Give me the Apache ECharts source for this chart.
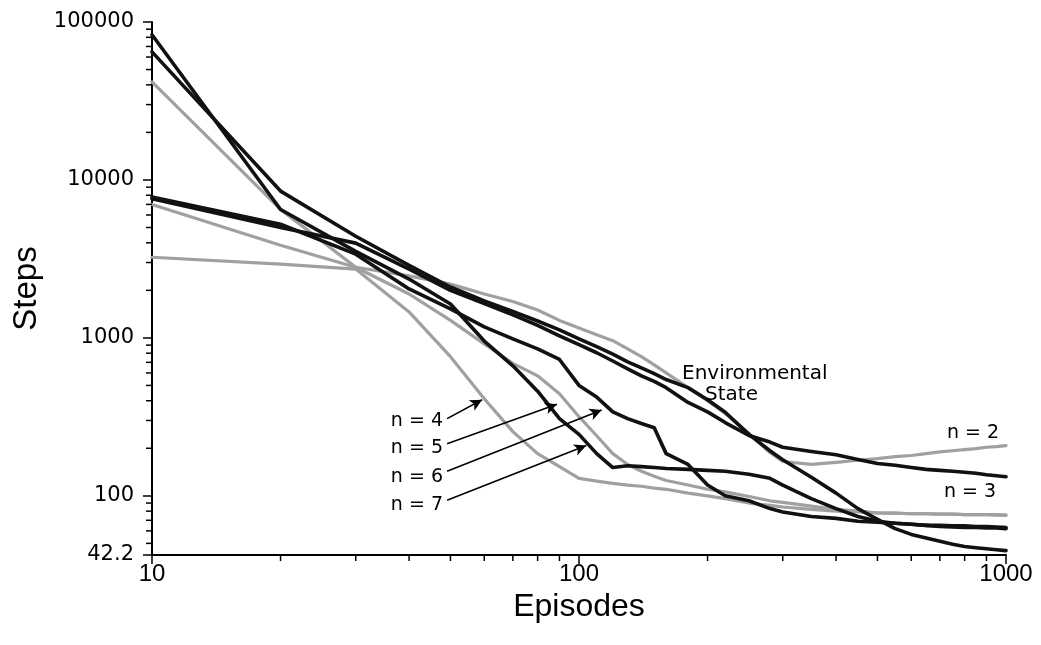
<!DOCTYPE html>
<html>
<head>
<meta charset="utf-8">
<title>Steps per episode</title>
<script src="https://cdn.jsdelivr.net/npm/echarts@6.0.0/dist/echarts.min.js"></script>
<style>
  html, body { margin: 0; padding: 0; background: #ffffff; }
  #chart { width: 1041px; height: 645px; }
</style>
</head>
<body>
<div id="chart"></div>
<script>
// Episode numbers at which every learning curve is sampled
const episodes = [10, 20, 30, 40, 50, 60, 70, 80, 90, 100, 110, 120, 130, 140, 150, 160, 180, 200, 220, 250,
  280, 300, 350, 400, 450, 500, 550, 600, 650, 700, 750, 800, 850, 900, 950, 1000];

// Steps per episode: full environmental state
const envState = [64700, 8500, 4400, 2880, 2100, 1715, 1470, 1280, 1125, 986, 880, 790, 705, 646, 593, 545, 484, 406, 338, 245,
  193, 169, 131, 104, 83, 71, 62, 57, 54, 51.5, 49.4, 47.8, 46.9, 46.2, 45.6, 45];

// Steps per episode: history windows of n observations
const window2 = [7000, 3860, 2800, 2470, 2190, 1896, 1700, 1500, 1290, 1155, 1045, 960, 852, 760, 675, 600, 484, 400, 332, 248,
  188, 165, 158, 163, 168, 172, 177, 180, 185, 190, 193, 196, 199, 203, 205, 208];
const window3 = [7600, 5000, 3980, 2725, 2000, 1650, 1400, 1200, 1030, 905, 805, 714, 637, 575, 530, 484, 390, 340, 291, 241,
  219, 203, 191, 182, 170, 160, 156, 151, 147, 145, 143, 141, 139, 136, 134, 132];
const window4 = [3240, 2930, 2725, 1460, 760, 412, 255, 185, 153, 129, 124, 120, 117, 115, 112, 110, 104, 100, 96, 90,
  87, 85, 82, 80, 79, 78, 77.6, 77, 77, 76.5, 76.5, 76, 76, 76, 76, 75.5];
const window5 = [41800, 6510, 2800, 1896, 1290, 917, 690, 575, 443, 317, 240, 185, 158, 143, 133, 125, 117, 110, 106, 99,
  93, 91, 86, 82, 80, 78, 77.6, 77, 77, 76.5, 76.5, 76, 76, 76, 75.5, 75.5];
const window6 = [7800, 5240, 3390, 2040, 1525, 1175, 986, 852, 730, 500, 422, 340, 308, 287, 270, 185, 158, 117, 100, 93,
  83, 79, 74, 72, 69, 68, 67, 66, 65, 65, 64.5, 64.5, 64, 64, 63.5, 63];
const window7 = [83000, 6500, 3530, 2357, 1640, 955, 665, 460, 308, 245, 185, 151, 155, 153, 151, 149, 147, 145, 143, 137,
  129, 117, 96, 83, 74, 69, 67, 66, 65, 64, 63.5, 63, 63, 62.5, 62.5, 62];

// Axis ranges and minor (log) tick values
const xRange = [10, 1000];
const yRange = [42.2, 100000];
const xMinorTicks = [20, 30, 40, 50, 60, 70, 80, 90, 200, 300, 400, 500, 600, 700, 800, 900];
const yMinorTicks = [50, 60, 70, 80, 90, 200, 300, 400, 500, 600, 700, 800, 900,
  2000, 3000, 4000, 5000, 6000, 7000, 8000, 9000, 20000, 30000, 40000, 50000, 60000, 70000, 80000, 90000];

// Pointer arrows from the window labels to their curves, in data units [episodes, steps]
const arrowTails = [[49.1, 308], [49.1, 214], [49.1, 143], [49.1, 93.7]];
const arrowHeads = [[59.3, 406], [88.8, 380], [113, 350], [104, 208]];

const BLACK = '#111111';
const GRAY = '#a0a0a0';

function curve(name, values, color, width, z) {
  return {
    type: 'line',
    name: name,
    data: episodes.map((e, i) => [e, values[i]]),
    showSymbol: false,
    symbol: 'none',
    smooth: false,
    lineStyle: { color: color, width: width, join: 'round', cap: 'round' },
    z: z,
    silent: true
  };
}

function tickSeries(values, axis) {
  return {
    type: 'custom',
    silent: true,
    clip: false,
    z: 6,
    data: values.map(v => axis === 'x' ? [v, yRange[0]] : [xRange[0], v]),
    renderItem: function (params, api) {
      const p = api.coord([api.value(0), api.value(1)]);
      const shape = axis === 'x'
        ? { x1: p[0], y1: p[1], x2: p[0], y2: p[1] + 6 }
        : { x1: p[0] - 6, y1: p[1], x2: p[0], y2: p[1] };
      return { type: 'line', shape: shape, style: { stroke: '#000', lineWidth: 1.5 } };
    }
  };
}

const chart = echarts.init(document.getElementById('chart'), null, { renderer: 'canvas' });

function note(text, x, y, align, size) {
  return {
    type: 'text', x: x, y: y, silent: true, z: 20,
    style: {
      text: text, fill: '#000', align: align, verticalAlign: 'middle',
      font: size + 'px "DejaVu Sans", "Liberation Sans", sans-serif'
    }
  };
}

chart.setOption({
  animation: false,
  backgroundColor: '#ffffff',
  grid: { left: 152, right: 35, top: 22, bottom: 90, containLabel: false },
  xAxis: {
    type: 'log',
    logBase: 10,
    min: xRange[0],
    max: xRange[1],
    name: 'Episodes',
    nameLocation: 'middle',
    nameGap: 33,
    nameTextStyle: { fontFamily: '"Liberation Sans", Arial, sans-serif', fontSize: 32, color: '#000' },
    axisLine: { lineStyle: { color: '#000', width: 2 } },
    axisTick: { show: true, length: 9, lineStyle: { color: '#000', width: 1.5 } },
    minorTick: { show: false },
    splitLine: { show: false },
    axisLabel: {
      color: '#000', fontSize: 24, margin: 7,
      fontFamily: '"Liberation Sans", Arial, sans-serif',
      formatter: v => String(Math.round(v))
    }
  },
  yAxis: {
    type: 'log',
    logBase: 10,
    min: yRange[0],
    max: yRange[1],
    name: 'Steps',
    nameLocation: 'middle',
    nameGap: 108,
    nameTextStyle: { fontFamily: '"Liberation Sans", Arial, sans-serif', fontSize: 33, color: '#000' },
    axisLine: { show: true, lineStyle: { color: '#000', width: 2 } },
    axisTick: { show: true, length: 9, lineStyle: { color: '#000', width: 1.5 } },
    minorTick: { show: false },
    splitLine: { show: false },
    axisLabel: {
      color: '#000', fontSize: 21, margin: 18,
      fontFamily: '"DejaVu Sans", "Liberation Sans", sans-serif',
      formatter: v => (v < 100 ? '42.2' : String(Math.round(v)))
    }
  },
  graphic: [
    note('n = 4', 443, 421, 'right', 19),
    note('n = 5', 443, 448, 'right', 19),
    note('n = 6', 443, 477, 'right', 19),
    note('n = 7', 443, 505, 'right', 19),
    note('Environmental', 682, 374, 'left', 20),
    note('State', 705, 395, 'left', 20),
    note('n = 2', 947, 433, 'left', 19),
    note('n = 3', 944, 492, 'left', 19)
  ],
  series: [
    curve('n = 2', window2, GRAY, 3.2, 2),
    curve('n = 4', window4, GRAY, 3.2, 2),
    curve('n = 5', window5, GRAY, 3.2, 2),
    curve('n = 3', window3, BLACK, 3.6, 3),
    curve('n = 6', window6, BLACK, 3.6, 3),
    curve('n = 7', window7, BLACK, 3.6, 3),
    curve('Environmental State', envState, BLACK, 3.6, 3),
    tickSeries(xMinorTicks, 'x'),
    tickSeries(yMinorTicks, 'y'),
    {
      type: 'line',
      name: 'pointers',
      data: [],
      silent: true,
      z: 10,
      markLine: {
        silent: true,
        animation: false,
        symbol: ['none', 'arrow'],
        symbolSize: [9, 12],
        label: { show: false },
        lineStyle: { color: '#000', width: 1.6, type: 'solid' },
        emphasis: { disabled: true },
        data: arrowTails.map((t, i) => [{ coord: t }, { coord: arrowHeads[i] }])
      }
    }
  ]
});
</script>
</body>
</html>
